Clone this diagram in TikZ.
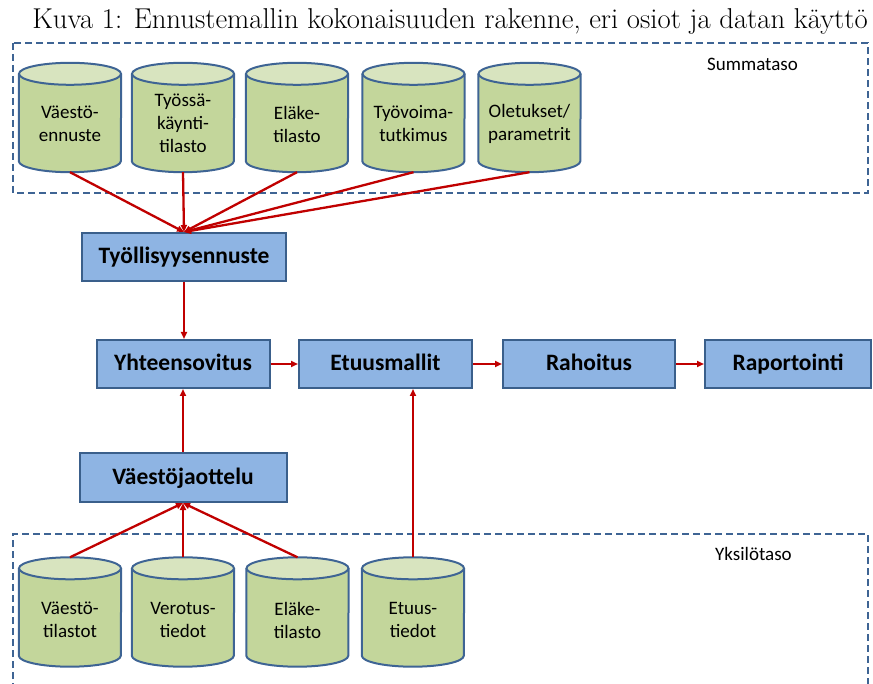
\documentclass[tikz,border=0pt]{standalone}
\usepackage{fontspec}
\newfontfamily\carlito{Carlito}
\usetikzlibrary{arrows.meta,calc}
\definecolor{boxfill}{HTML}{8EB4E3}
\definecolor{boxline}{HTML}{3A5F8B}
\definecolor{cylbody}{HTML}{C3D69B}
\definecolor{cyltop}{HTML}{D8E4BF}
\definecolor{cylline}{HTML}{3E6494}
\definecolor{dashline}{HTML}{3E6494}
\definecolor{arrred}{HTML}{C00000}
\begin{document}
\begin{tikzpicture}[x=1pt,y=-1pt,
  procbox/.style={draw=boxline, line width=2pt, fill=boxfill, minimum height=48pt, inner sep=0pt,
    text height=18pt, text depth=4pt,
    font=\carlito\bfseries\fontsize{23.5}{27}\selectfont},
  cylsh/.style={minimum width=102pt, minimum height=109pt, inner sep=0pt},
  cyltext/.style={align=center, inner sep=0pt, font=\carlito\fontsize{19}{23}\selectfont},
  lvltext/.style={anchor=base west, inner sep=0pt, font=\carlito\fontsize{19}{23}\selectfont},
  lvl/.style={draw=dashline, line width=2pt, dash pattern=on 7pt off 4pt},
  conn/.style={color=arrred, line width=1.7pt, -{Triangle[length=7pt,width=6pt]}},
  heavyconn/.style={conn, line width=2.3pt},
]
\useasboundingbox (0,0) rectangle (873,684);

% caption
\node[font=\fontsize{28.7}{32}\selectfont, anchor=base, inner sep=0pt] (cap) at (450,29)
  {Kuva 1: Ennustemallin kokonaisuuden rakenne, eri osiot ja datan käyttö};

% level frames
\draw[lvl] (13,43) rectangle (868,193);
\draw[lvl] (13,690) -- (13,534) -- (868,534) -- (868,690);
\node[lvltext] (sumlbl) at (707,71) {Summataso};
\node[lvltext] (yklbl) at (715,560) {Yksilötaso};

% cylinder frames
\node[cylsh] (c1) at (70,117.5) {};
\node[cylsh] (c2) at (183,117.5) {};
\node[cylsh] (c3) at (297,117.5) {};
\node[cylsh] (c4) at (413.5,117.5) {};
\node[cylsh] (c5) at (529.5,117.5) {};
\node[cylsh] (d1) at (70,612) {};
\node[cylsh] (d2) at (183,612) {};
\node[cylsh] (d3) at (297.5,612) {};
\node[cylsh] (d4) at (413,612) {};

\foreach \n in {c1,c2,c3,c4,c5,d1,d2,d3,d4}{
  \fill[cylbody] ($(\n.north west)+(0,11)$) -- ($(\n.south west)+(0,-11)$)
     arc[start angle=180,end angle=0,x radius=51,y radius=11] -- ($(\n.north east)+(0,11)$) -- cycle;
  \filldraw[fill=cyltop, draw=cylline, line width=2pt] ($(\n.north)+(0,11)$) ellipse[x radius=51, y radius=11];
  \draw[cylline, line width=2pt] ($(\n.north west)+(0,11)$) -- ($(\n.south west)+(0,-11)$)
     arc[start angle=180,end angle=0,x radius=51,y radius=11] -- ($(\n.north east)+(0,11)$);
}

% cylinder texts
\node[cyltext] (t1) at (70,124) {Väestö-\\ennuste};
\node[cyltext] (t2) at (183,123) {Työssä-\\käynti-\\tilasto};
\node[cyltext] (t3) at (297,124) {Eläke-\\tilasto};
\node[cyltext] (t4) at (413.5,124) {Työvoima-\\tutkimus};
\node[cyltext] (t5) at (529.5,124) {Oletukset/\\parametrit};
\node[cyltext] (u1) at (70,620) {Väestö-\\tilastot};
\node[cyltext] (u2) at (183,620) {Verotus-\\tiedot};
\node[cyltext] (u3) at (297.5,620) {Eläke-\\tilasto};
\node[cyltext] (u4) at (413,620) {Etuus-\\tiedot};

% process boxes
\node[procbox, minimum width=204pt] (tyol) at (184,257) {Työllisyysennuste};
\node[procbox, minimum width=173pt] (yht) at (183,364) {Yhteensovitus};
\node[procbox, minimum width=173pt] (etu) at (385.5,364) {Etuusmallit};
\node[procbox, minimum width=172pt] (rah) at (589,364) {Rahoitus};
\node[procbox, minimum width=166pt] (rap) at (788,364) {Raportointi};
\node[procbox, minimum width=207pt, minimum height=49pt] (vaj) at (183,477.5) {Väestöjaottelu};

% connectors
\foreach \n in {c1,c2,c3,c4,c5}{
  \draw[heavyconn] (\n.south) -- (tyol.north);
}
\draw[conn] (tyol.south) -- (tyol.south |- yht.north);
\draw[conn, line width=2pt] (yht.east) -- (etu.west);
\draw[conn, line width=2pt] (etu.east) -- (rah.west);
\draw[conn, line width=2pt] (rah.east) -- (rap.west);
\draw[conn] (vaj.north) -- (yht.south);
\foreach \n in {d1,d2,d3}{
  \draw[heavyconn] (\n.north) -- (vaj.south);
}
\draw[conn] (d4.north) -- (d4.north |- etu.south);
\end{tikzpicture}
\end{document}
